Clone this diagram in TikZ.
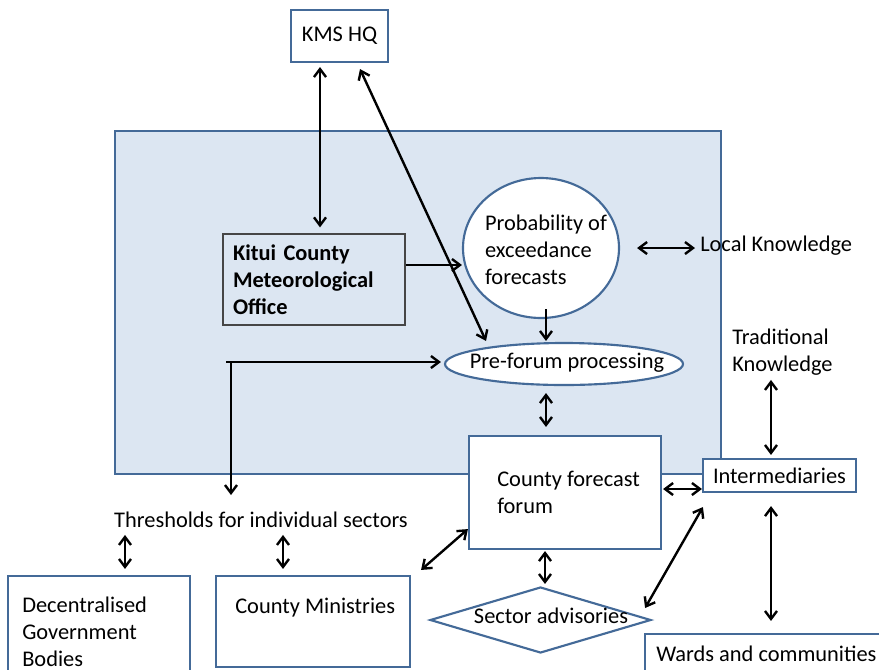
\documentclass[tikz,border=0pt]{standalone}
\usepackage{fontspec}
\setmainfont{Carlito}
\usetikzlibrary{arrows.meta,shapes.geometric,calc}
\definecolor{bgblue}{RGB}{220,230,242}
\definecolor{edgeblue}{RGB}{68,106,152}
\definecolor{kitgray}{RGB}{70,70,70}
\begin{document}
\begin{tikzpicture}[x=0.75pt,y=-0.75pt,
  every node/.style={font=\fontsize{16.8}{20.2}\selectfont, text=black},
  bbox/.style={draw=edgeblue, line width=1.6pt, fill=white, inner sep=0pt},
  txt/.style={inner sep=0pt, align=left},
  barb/.tip={Straight Barb[length=6pt,width=9pt]},
  conn/.style={line width=1.8pt, -barb},
  dconn/.style={line width=1.8pt, barb-barb}]
\useasboundingbox (0,0) rectangle (879,669);
\clip (0,0) rectangle (879,669);
% shaded region
\node[draw=edgeblue, line width=1.6pt, fill=bgblue, inner sep=0pt,
  minimum width={606*0.75pt}, minimum height={343*0.75pt}] (region) at (418,302.5) {};
% nodes
\node[bbox, minimum width={97*0.75pt}, minimum height={52*0.75pt}] (kms) at (339.5,36) {KMS HQ};
\node[draw=kitgray, line width=1pt, fill=bgblue, inner xsep=7.5pt, inner ysep=0pt,
  text width={162*0.75pt}, minimum height={91*0.75pt}, align=left, font=\fontsize{16.8}{20.2}\selectfont\bfseries]
  (kitui) at (314,279.5) {Kitui County\\Meteorological\\Office};
\node[bbox, ellipse, minimum width={156*0.75pt}, minimum height={140*0.75pt}] (prob) at (541,248) {};
\node[txt] (probtext) at (546,250) {Probability of\\exceedance\\forecasts};
\node[bbox, ellipse, minimum width={238*0.75pt}, minimum height={42*0.75pt}] (preforum) at (564,364) {};
\node[txt] (pretext) at (567,363) {Pre-forum processing};
\node[bbox, minimum width={192*0.75pt}, minimum height={113*0.75pt}] (forum) at (565,492.5) {};
\node[txt, anchor=west] (forumtext) at (497,492) {County forecast\\forum};
\node[bbox, minimum width={153*0.75pt}, minimum height={33*0.75pt}] (interm) at (779.5,475.5) {Intermediaries};
\node[bbox, minimum width={255*0.75pt}, minimum height={56*0.75pt}] (wards) at (772.5,662) {};
\node[txt, anchor=west] (wardstext) at (656,654) {Wards and communities};
\node[bbox, diamond, aspect=3.35, minimum width={221*0.75pt}, minimum height={66*0.75pt}] (sector) at (540.5,620) {};
\node[txt] (sectortext) at (551,616) {Sector advisories};
\node[bbox, minimum width={182*0.75pt}, minimum height={114*0.75pt}] (decent) at (99,633) {};
\node[txt, anchor=west] (decenttext) at (22,632) {Decentralised\\Government\\Bodies};
\node[bbox, minimum width={194*0.75pt}, minimum height={91*0.75pt}] (minis) at (313,621.5) {};
\node[txt, anchor=west] (ministext) at (235,608) {County Ministries};
\node[txt] (thresh) at (261,520) {Thresholds for individual sectors};
\node[txt, anchor=west] (local) at (700,246) {Local Knowledge};
\node[txt, anchor=west] (trad) at (732,352.5) {Traditional\\Knowledge};
\coordinate (lstart) at (226,362);
\coordinate (split) at (231,362);
% connectors
\draw[dconn] ($(kms.south)+(-19.5,4)$) -- ($(kitui.north)+(6,-6)$);
\draw[dconn] ($(kms.south)+(20.5,6)$) -- ($(preforum.north)+(-78,-1)$);
\draw[conn] ($(kitui.east)+(0,-14.5)$) -- ($(prob.west)+(0,17)$);
\draw[dconn] ($(prob.east)+(17,0)$) -- ($(local.west)+(-5,2)$);
\draw[conn] ($(prob.south)+(5,-10)$) -- ($(preforum.north)+(-18,-1)$);
\draw[conn] (lstart) -- ($(preforum.west)+(-3,-2)$);
\draw[conn] (split) -- (split |- 0,495);
\draw[dconn] ($(preforum.south)+(-18,7)$) -- ($(forum.north)+(-19,-8)$);
\draw[dconn] ($(trad.south -| interm.north)+(-8.5,4)$) -- ($(interm.north)+(-8.5,-3)$);
\draw[dconn] ($(forum.east)+(1,-3.5)$) -- ($(interm.west)+(0,13.5)$);
\draw[dconn] ($(interm.south)+(-8.5,13)$) -- ($(wards.north)+(-1.5,-12)$);
\draw[dconn] ($(interm.south west)+(1,14)$) -- ($(sector.east)+(-7,-12)$);
\draw[dconn] ($(forum.south west)+(0,-21)$) -- ($(minis.north east)+(10,-5)$);
\draw[dconn] ($(forum.south)+(-20,1)$) -- ($(sector.north)+(4.5,-2)$);
\draw[dconn] ($(decent.north)+(26,-40)$) -- ($(decent.north)+(26,-6)$);
\draw[dconn] ($(minis.north)+(-30,-40)$) -- ($(minis.north)+(-30,-6)$);
\end{tikzpicture}
\end{document}
